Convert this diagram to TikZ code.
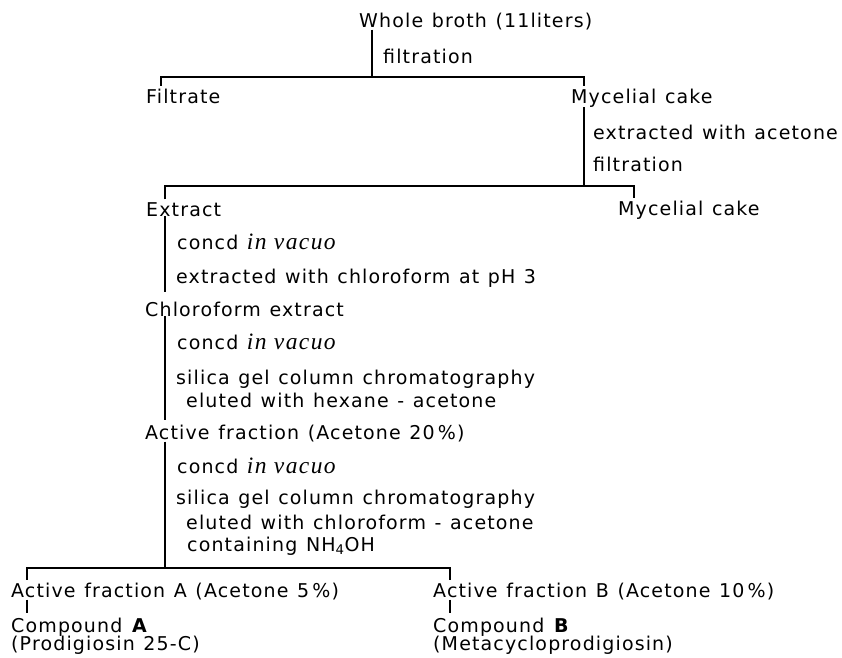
\documentclass[tikz,border=0pt]{standalone}
\usepackage{fontspec}
\setmainfont{DejaVu Sans}[LetterSpace=6,WordSpace=1.2]
\newfontfamily\vacfont{Liberation Serif}[LetterSpace=6]
\newcommand{\invac}{{\vacfont\itshape\fontsize{23.5}{24}\selectfont in vacuo}}
\begin{document}
\begin{tikzpicture}[x=1pt,y=-1pt,
  txt/.style={anchor=base west, inner sep=0pt, font=\fontsize{19}{23}\selectfont},
  conn/.style={line width=1.2pt},
  ends/.style={shorten <=2.5pt, shorten >=2.5pt}]
\useasboundingbox (0,0) rectangle (842,657);
% texts
\node[txt] (wb) at (359,27) {Whole broth (11liters)};
\node[txt] (f1) at (383,63) {filtration};
\node[txt] (filt) at (146,103) {Filtrate};
\node[txt] (myc1) at (571,103) {Mycelial cake};
\node[txt] (ext1) at (593,139) {extracted with acetone};
\node[txt] (f2) at (593,171) {filtration};
\node[txt] (extr) at (146,216) {Extract};
\node[txt] (myc2) at (618,215) {Mycelial cake};
\node[txt] (c1) at (177,249) {concd \invac};
\node[txt] (ext2) at (176,283) {extracted with chloroform at pH 3};
\node[txt] (chl) at (145,316) {Chloroform extract};
\node[txt] (c2) at (177,349) {concd \invac};
\node[txt] (s1) at (176,384) {silica gel column chromatography};
\node[txt] (e1) at (186,407) {eluted with hexane - acetone};
\node[txt] (af) at (145,439) {Active fraction (Acetone 20\,\%)};
\node[txt] (c3) at (177,473) {concd \invac};
\node[txt] (s2) at (176,504) {silica gel column chromatography};
\node[txt] (e2) at (186,529) {eluted with chloroform - acetone};
\node[txt] (cont) at (187,551) {containing NH\textsubscript{4}OH};
\node[txt] (afa) at (11,597) {Active fraction A (Acetone 5\,\%)};
\node[txt] (afb) at (433,597) {Active fraction B (Acetone 10\,\%)};
\node[txt] (cA) at (11,632) {Compound \textbf{A}};
\node[txt] (pA) at (11,650) {(Prodigiosin 25-C)};
\node[txt] (cB) at (433,632) {Compound \textbf{B}};
\node[txt] (pB) at (433,650) {(Metacycloprodigiosin)};
% junctions
\coordinate (j1) at (372,77);
\coordinate (h1l) at (161,77);
\coordinate (h1r) at (584,77);
\coordinate (j2) at (584,186);
\coordinate (h2l) at (165,186);
\coordinate (h2r) at (634,186);
\coordinate (j3) at (165,568);
\coordinate (h3l) at (27,568);
\coordinate (h3r) at (450,568);
% connectors
\draw[conn] (wb.south -| j1) -- (j1);
\draw[conn, ends] (filt.north -| h1l) -- (h1l) -- (h1r) -- (myc1.north -| h1r);
\draw[conn] (myc1.south -| h1r) -- (j2);
\draw[conn, ends] (extr.north -| h2l) -- (h2l) -- (h2r) -- (myc2.north -| h2r);
\draw[conn, shorten >=9.5pt] (extr.south -| h2l) -- (chl.north -| h2l);
\draw[conn, shorten >=4.5pt] (chl.south -| h2l) -- (af.north -| h2l);
\draw[conn] (af.south -| j3) -- (j3);
\draw[conn, ends] (afa.north -| h3l) -- (h3l) -- (h3r) -- (afb.north -| h3r);
\draw[conn, shorten >=4pt] (afa.south -| h3l) -- (cA.north -| h3l);
\draw[conn, shorten >=4pt] (afb.south -| h3r) -- (cB.north -| h3r);
\end{tikzpicture}
\end{document}
